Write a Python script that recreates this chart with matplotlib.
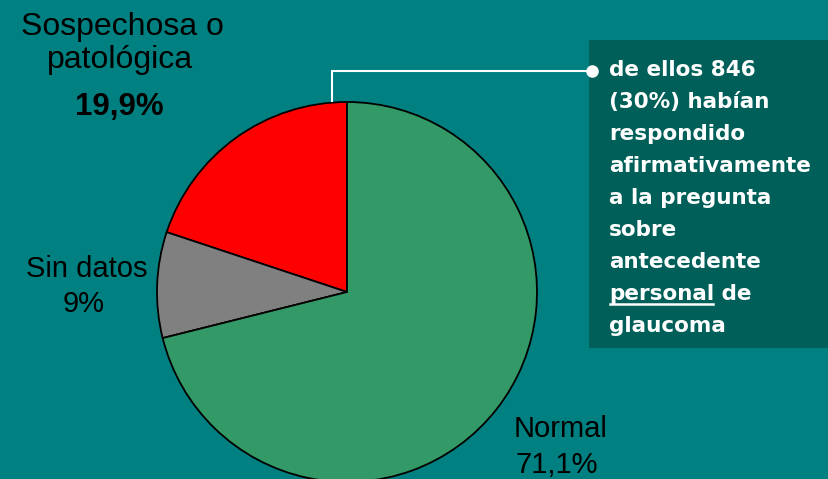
import matplotlib.pyplot as plt
from matplotlib.patches import Rectangle

# Datos del gráfico
categorias = ['Sospechosa o patológica', 'Sin datos', 'Normal']
porcentajes = [19.9, 9.0, 71.1]
etiquetas_pct = ['19,9%', '9%', '71,1%']
colores = ['#FF0000', '#808080', '#339966']

nota = ['de ellos 846', '(30%) habían', 'respondido', 'afirmativamente',
        'a la pregunta', 'sobre', 'antecedente', None, 'glaucoma']

W, H = 829, 479
fondo = '#008080'
caja = '#005F58'
plt.rcParams['font.family'] = ['Liberation Sans', 'DejaVu Sans']
fuente_nota = ['DejaVu Sans']


def Y(y):
    # coordenadas de pixel (desde arriba) a coordenadas de datos
    return H - y


fig = plt.figure(figsize=(W / 100, H / 100), dpi=100, facecolor=fondo)
ax = fig.add_axes([0, 0, 1, 1])
ax.set_facecolor(fondo)

# Torta: empieza arriba y va en sentido antihorario (rojo, gris, verde)
ax.pie(porcentajes, colors=colores, startangle=90, counterclock=True,
       center=(347, Y(292)), radius=190,
       wedgeprops=dict(edgecolor='black', linewidth=1.3))

ax.set_xlim(0, W)
ax.set_ylim(0, H)
ax.set_aspect('equal')
ax.axis('off')

# Etiquetas de las porciones
ax.text(122, Y(35), 'Sospechosa o', fontsize=23, ha='center', va='baseline')
ax.text(120, Y(68), 'patológica', fontsize=23, ha='center', va='baseline')
ax.text(119, Y(115), etiquetas_pct[0], fontsize=22.5, fontweight='bold',
        ha='center', va='baseline')

ax.text(87, Y(277), categorias[1], fontsize=21, ha='center', va='baseline')
ax.text(84, Y(312), etiquetas_pct[1], fontsize=21, ha='center', va='baseline')

ax.text(561, Y(437), categorias[2], fontsize=21, ha='center', va='baseline')
ax.text(557, Y(473), etiquetas_pct[2], fontsize=21, ha='center', va='baseline')

# Caja de nota
ax.add_patch(Rectangle((589, Y(348)), W - 589, 308, facecolor=caja,
                       edgecolor='none', zorder=1))

# Línea conectora con punto
ax.plot([332, 332, 592], [Y(101), Y(71), Y(71)], color='white', lw=1.5,
        zorder=3, solid_joinstyle='miter')
ax.plot([592], [Y(71)], 'o', color='white', markersize=8, zorder=4)

x0 = 609
fs = 15.5
fig.canvas.draw()
r = fig.canvas.get_renderer()
for i, linea in enumerate(nota):
    yb = Y(76 + i * 32.0)
    if linea is not None:
        ax.text(x0, yb, linea, fontsize=fs, fontweight='bold', color='white',
                family=fuente_nota, ha='left', va='baseline', zorder=5)
    else:
        t = ax.text(x0, yb, 'personal', fontsize=fs, fontweight='bold',
                    color='white', family=fuente_nota, ha='left',
                    va='baseline', zorder=5)
        bb = t.get_window_extent(renderer=r).transformed(ax.transData.inverted())
        ax.plot([bb.x0 + 1, bb.x1 - 1], [yb - 4, yb - 4], color='white', lw=1.8,
                zorder=5)
        ax.text(bb.x1, yb, ' de', fontsize=fs, fontweight='bold', color='white',
                family=fuente_nota, ha='left', va='baseline', zorder=5)

fig.savefig('out.png', dpi=100, facecolor=fondo)
